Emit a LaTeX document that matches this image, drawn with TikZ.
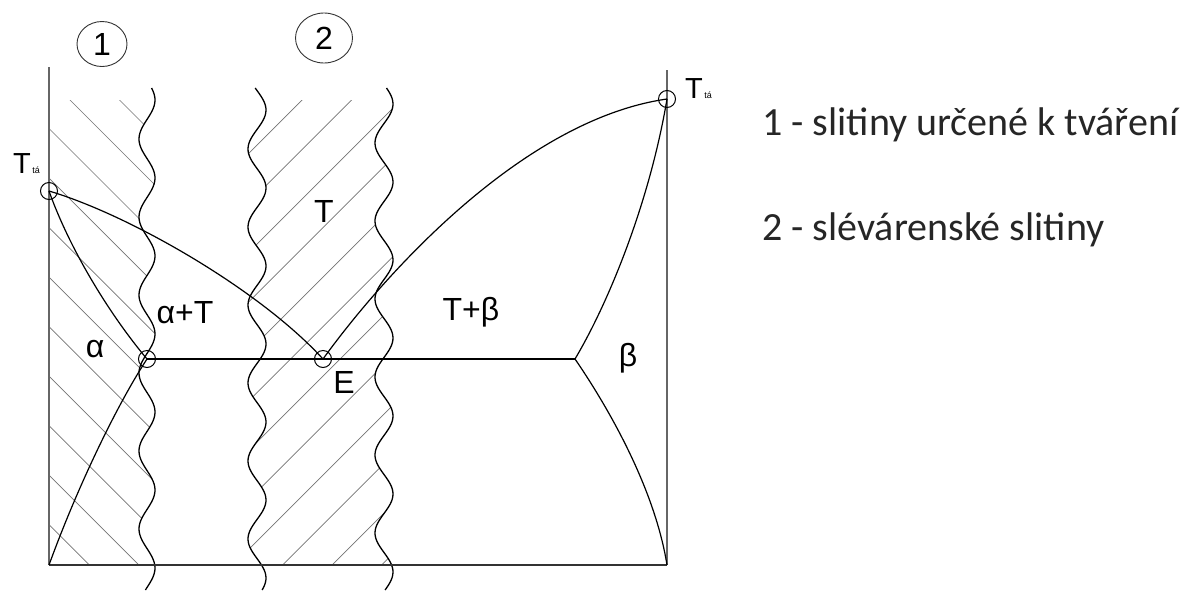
\documentclass[tikz,border=0pt]{standalone}
\usepackage{fontspec}
\setmainfont{Liberation Sans}
\newfontfamily\legendfont{Carlito}
\usetikzlibrary{shapes.geometric}
\newcommand\waveA[1]{147+8*cos(4.61538*((#1)-100))}
\newcommand\waveB[1]{257+9*cos(4.61538*((#1)-110))}
\newcommand\waveC[1]{384+9*cos(4.61538*((#1)-104))}
\begin{document}
\begin{tikzpicture}[x=1pt,y=-1pt,
  axisline/.style={draw=black!60, line width=1.8pt},
  baseline/.style={draw=black!80, line width=1.8pt},
  curve/.style={draw=black, line width=1.2pt},
  wave/.style={draw=black, line width=1.3pt},
  hatchline/.style={draw=black!55, line width=0.7pt},
  pt/.style={circle, draw=black, line width=1pt, minimum size=17pt, inner sep=0pt},
  numcirc/.style={ellipse, draw=black!80, line width=0.9pt, inner sep=0pt, font=\fontsize{32}{32}\selectfont},
  lbl/.style={anchor=base, inner sep=0pt, font=\fontsize{32}{32}\selectfont},
  tlbl/.style={anchor=base west, inner sep=0pt, font=\fontsize{29}{29}\selectfont},
  legend/.style={anchor=base west, inner sep=0pt, font=\legendfont\fontsize{40}{40}\selectfont, text=black!85}
]
\useasboundingbox (0,0) rectangle (1189,590);

% hatching region 1
\begin{scope}
  \clip (49,100) -- plot[variable=\t, domain=100:565, samples=160] ({\waveA{\t}},{\t}) -- (49,565) -- cycle;
  \foreach \k in {-2,...,11} {
    \draw[hatchline] (40,{70+49.5*\k}) -- (190,{220+49.5*\k});
  }
\end{scope}
% hatching region 2
\begin{scope}
  \clip plot[variable=\t, domain=100:565, samples=160] ({\waveB{\t}},{\t}) -- plot[variable=\t, domain=565:100, samples=160] ({\waveC{\t}},{\t}) -- cycle;
  \foreach \k in {-1,...,14} {
    \draw[hatchline] (230,{172+49.5*\k}) -- (420,{-18+49.5*\k});
  }
\end{scope}

% wavy boundaries
\draw[wave] plot[variable=\t, domain=88:590, samples=200] ({\waveA{\t}},{\t});
\draw[wave] plot[variable=\t, domain=88:590, samples=200] ({\waveB{\t}},{\t});
\draw[wave] plot[variable=\t, domain=88:590, samples=200] ({\waveC{\t}},{\t});

% axes
\coordinate (Ltop) at (49,67);
\coordinate (O) at (49,565);
\coordinate (R) at (667,565);
\coordinate (Rtop) at (667,70);
\draw[axisline] (Ltop) -- (O);
\draw[axisline] (R) -- (Rtop);
\draw[baseline] (O) -- (R);

% key points
\node[pt] (A) at (49,191) {};
\node[pt] (B) at (667,99) {};
\node[pt] (P) at (147,359) {};
\node[pt] (E) at (323,359) {};
\coordinate (Q) at (575,359);

% phase boundaries
\draw[curve] (A.center) .. controls (70,250) and (110,315) .. (P.center);
\draw[curve] (A.center) .. controls (130,215) and (260,290) .. (E.center);
\draw[curve] (E.center) .. controls (380,280) and (520,120) .. (B.center);
\draw[curve] (B.center) .. controls (650,200) and (610,300) .. (Q);
\draw[curve] (Q) .. controls (610,410) and (655,490) .. (R);
\draw[curve] (O) .. controls (80,480) and (120,400) .. (P.center);
\draw[curve] (P.center) -- (Q);

% circled numbers
\node[numcirc, minimum width=50pt, minimum height=45pt] (n1) at (102,44) {1};
\node[numcirc, minimum width=57pt, minimum height=50pt] (n2) at (324,38) {2};

% labels
\node[tlbl] (tA) at (13,173) {T{\fontsize{9}{9}\selectfont\,tá}};
\node[tlbl] (tB) at (685,98) {T{\fontsize{9}{9}\selectfont\,tá}};
\node[lbl] (la) at (95,357) {α};
\node[lbl] (laT) at (185,323) {α+T};
\node[lbl] (lT) at (324,222) {T};
\node[lbl] (lE) at (344,393) {E};
\node[lbl] (lTb) at (471,320) {T+β};
\node[lbl] (lb) at (628,366) {β};

% legend
\node[legend] (leg1) at (762,135) {1 - slitiny určené k tváření};
\node[legend] (leg2) at (762,240) {2 - slévárenské slitiny};
\end{tikzpicture}
\end{document}
